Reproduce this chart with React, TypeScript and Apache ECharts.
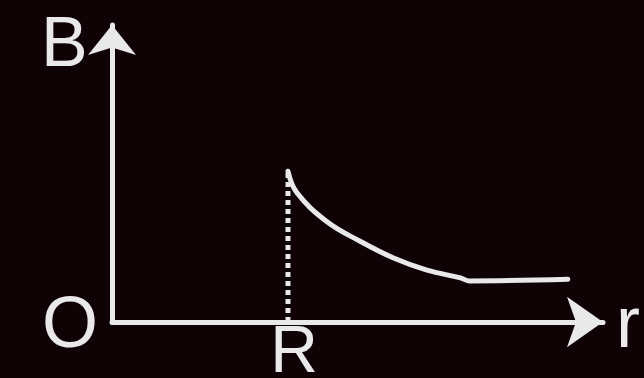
import React, { useEffect, useRef } from "react";
import * as echarts from "echarts";

// Field B as a function of distance r (R = 1 unit)
const curveR: number[] = [1.0, 1.05, 1.22, 1.41, 1.6, 1.79, 1.98, 2.03, 2.59];
const curveB: number[] = [0.99, 0.85, 0.66, 0.53, 0.42, 0.34, 0.29, 0.27, 0.28];
const dashR: number[] = [1.0, 1.0];
const dashB: number[] = [0, 0.99];
const xTickLabels: Record<string, string> = { "1": "R" };
const yTickLabels: Record<string, string> = { "0": "O" };
const xName = "r";
const yName = "B";

const FG = "#e9e9e9";
const BG = "#100306";
const FONT = "'Liberation Sans', Arial, sans-serif";
const FS = 72;

export default function App() {
  const ref = useRef<HTMLDivElement>(null);
  useEffect(() => {
    if (!ref.current) return;
    const chart = echarts.init(ref.current, undefined, { renderer: "svg" });
    chart.setOption({
      animation: false,
      backgroundColor: BG,
      grid: {
        left: 112,
        right: 41,
        top: 25,
        bottom: 56,
        containLabel: false,
        outerBoundsMode: "none",
      },
      xAxis: {
        type: "value",
        min: 0,
        max: 2.79,
        interval: 1,
        name: xName,
        nameLocation: "end",
        nameGap: 13,
        nameTextStyle: {
          color: FG,
          fontSize: FS,
          fontFamily: FONT,
          lineHeight: 52,
          padding: [20, 0, 0, 0],
        },
        axisLine: {
          show: true,
          symbol: ["none", "arrow"],
          symbolSize: [38, 36],
          lineStyle: { color: FG, width: 5 },
        },
        axisTick: { show: false },
        splitLine: { show: false },
        axisLabel: {
          color: FG,
          fontSize: 66,
          fontFamily: FONT,
          lineHeight: 48,
          margin: 3,
          padding: [0, 0, 0, 12],
          showMinLabel: true,
          showMaxLabel: false,
          formatter: (v: number) => xTickLabels[String(v)] ?? "",
        },
      },
      yAxis: {
        type: "value",
        min: 0,
        max: 1.95,
        interval: 1,
        axisLine: {
          show: true,
          symbol: ["none", "arrow"],
          symbolSize: [36, 30],
          lineStyle: { color: FG, width: 5 },
        },
        axisTick: { show: false },
        splitLine: { show: false },
        axisLabel: {
          color: FG,
          fontSize: FS,
          fontFamily: FONT,
          margin: 14,
          padding: [24, 0, 0, 0],
          showMaxLabel: false,
          formatter: (v: number) => yTickLabels[String(v)] ?? "",
        },
      },
      graphic: [
        {
          type: "text",
          left: 41,
          top: 7,
          style: { text: yName, fill: FG, fontSize: 70, fontFamily: FONT, lineHeight: 54 },
        },
      ],
      series: [
        {
          type: "line",
          data: dashR.map((r, i) => [r, dashB[i]]),
          showSymbol: false,
          lineStyle: { color: FG, width: 5, type: [5, 4] },
          z: 3,
        },
        {
          type: "line",
          data: curveR.map((r, i) => [r, curveB[i]]),
          showSymbol: false,
          smooth: 0.4,
          lineStyle: { color: FG, width: 5, cap: "round" },
          z: 4,
        },
      ],
    });
    return () => chart.dispose();
  }, []);
  return <div ref={ref} style={{ width: 644, height: 378, position: "absolute", left: 0, top: 0 }} />;
}
